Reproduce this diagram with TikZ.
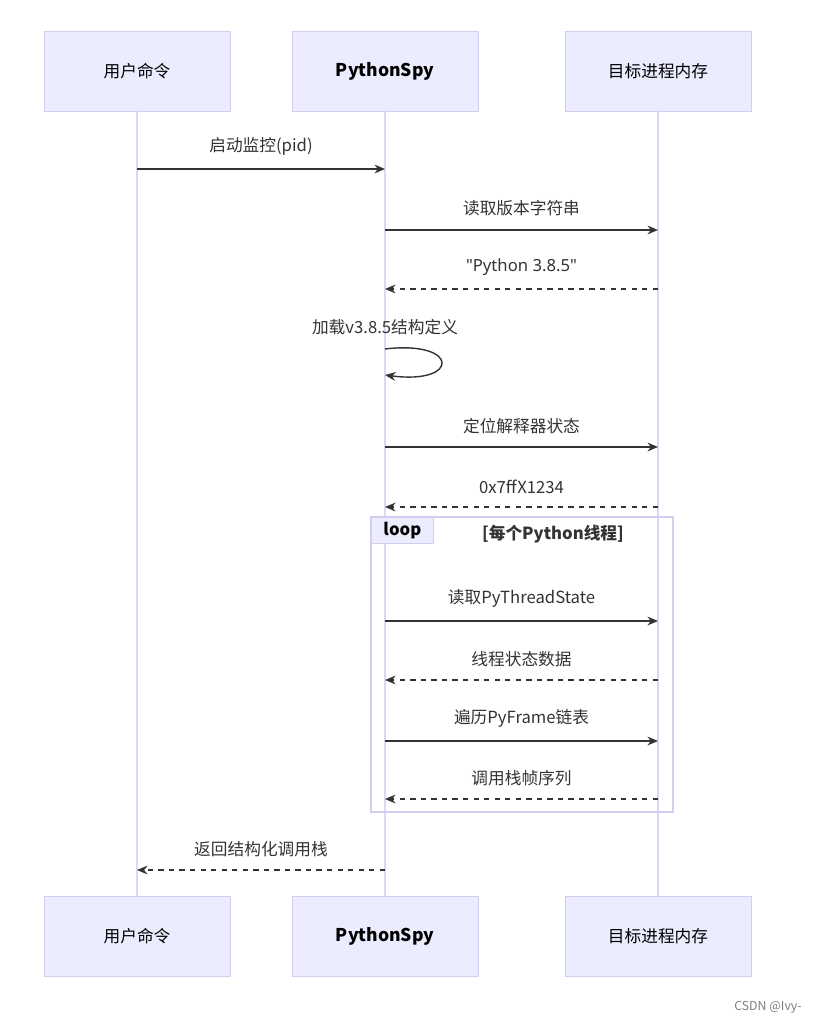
\documentclass[tikz,border=0pt]{standalone}
\usepackage{fontspec}
\setmainfont{Noto Sans CJK SC}
\newfontfamily\latinfont{Noto Sans}
\usetikzlibrary{arrows.meta}
\definecolor{boxfill}{RGB}{236,236,255}
\definecolor{boxline}{RGB}{214,204,240}
\definecolor{lifeline}{RGB}{222,214,244}
\definecolor{msgline}{RGB}{51,51,51}
\tikzset{
  actor/.style={draw=boxline, fill=boxfill, minimum width=186*0.02cm, minimum height=80*0.02cm, font=\fontsize{9.5}{11}\selectfont},
  life/.style={draw=lifeline, line width=1.5pt},
  msg/.style={draw=msgline, line width=0.8pt, -{Stealth[length=6pt,width=5pt]}},
  reply/.style={msg, dashed},
  lbl/.style={font=\fontsize{9.5}{11}\selectfont, text=msgline}
}
\begin{document}
\begin{tikzpicture}[x=0.02cm,y=-0.02cm]
  \useasboundingbox (0,0) rectangle (814,1024);

  \node[actor] (U) at (137,71) {用户命令};
  \node[actor, font=\fontsize{10}{11}\selectfont\bfseries] (P) at (385,71) {PythonSpy};
  \node[actor] (T) at (658,71) {目标进程内存};
  \node[actor] (U2) at (137,936) {用户命令};
  \node[actor, font=\fontsize{10}{11}\selectfont\bfseries] (P2) at (385,936) {PythonSpy};
  \node[actor] (T2) at (658,936) {目标进程内存};

  \draw[life] (U) -- (U2);
  \draw[life] (P) -- (P2);
  \draw[life] (T) -- (T2);

  % loop frame
  \draw[boxline, line width=1pt] (371,517) rectangle (673,812);
  \node[draw=boxline, fill=boxfill, minimum width=62*0.02cm, minimum height=26*0.02cm, anchor=north west, font=\fontsize{9.5}{11}\selectfont\bfseries, inner sep=0pt] (loop) at (371,517) {loop};
  \node[lbl, font=\fontsize{9.5}{11}\selectfont\bfseries] (cond) at (553,534) {[每个Python线程]};

  % message anchors
  \coordinate (u1) at (137,169); \coordinate (p1) at (385,169);
  \coordinate (p2) at (385,230); \coordinate (t2) at (658,230);
  \coordinate (p3) at (385,289); \coordinate (t3) at (658,289);
  \coordinate (p5) at (385,447); \coordinate (t5) at (658,447);
  \coordinate (p6) at (385,507); \coordinate (t6) at (658,507);
  \coordinate (p7) at (385,621); \coordinate (t7) at (658,621);
  \coordinate (p8) at (385,680); \coordinate (t8) at (658,680);
  \coordinate (p9) at (385,741); \coordinate (t9) at (658,741);
  \coordinate (p10) at (385,799); \coordinate (t10) at (658,799);
  \coordinate (p11) at (385,870); \coordinate (u11) at (137,870);
  \coordinate (s1) at (385,349); \coordinate (s2) at (385,375);

  \draw[msg] (u1) -- (p1) node[lbl, midway, above=4pt] {启动监控(pid)};
  \draw[msg] (p2) -- (t2) node[lbl, midway, above=4pt] {读取版本字符串};
  \draw[reply] (t3) -- (p3) node[lbl, midway, above=4pt] {\latinfont\symbol{34}Python 3.8.5\symbol{34}};
  \draw[msg] (s1) .. controls (460,340) and (460,385) .. (s2);
  \node[lbl] (selflbl) at (385,327) {加载v3.8.5结构定义};
  \draw[msg] (p5) -- (t5) node[lbl, midway, above=4pt] {定位解释器状态};
  \draw[reply] (t6) -- (p6) node[lbl, midway, above=4pt] {0x7ffX1234};
  \draw[msg] (p7) -- (t7) node[lbl, midway, above=4pt] {读取PyThreadState};
  \draw[reply] (t8) -- (p8) node[lbl, midway, above=4pt] {线程状态数据};
  \draw[msg] (p9) -- (t9) node[lbl, midway, above=4pt] {遍历PyFrame链表};
  \draw[reply] (t10) -- (p10) node[lbl, midway, above=4pt] {调用栈帧序列};
  \draw[reply] (p11) -- (u11) node[lbl, midway, above=4pt] {返回结构化调用栈};

  \node[text=gray, font=\fontsize{7}{8}\selectfont] (mark) at (768,1007) {CSDN @Ivy-};
\end{tikzpicture}
\end{document}
